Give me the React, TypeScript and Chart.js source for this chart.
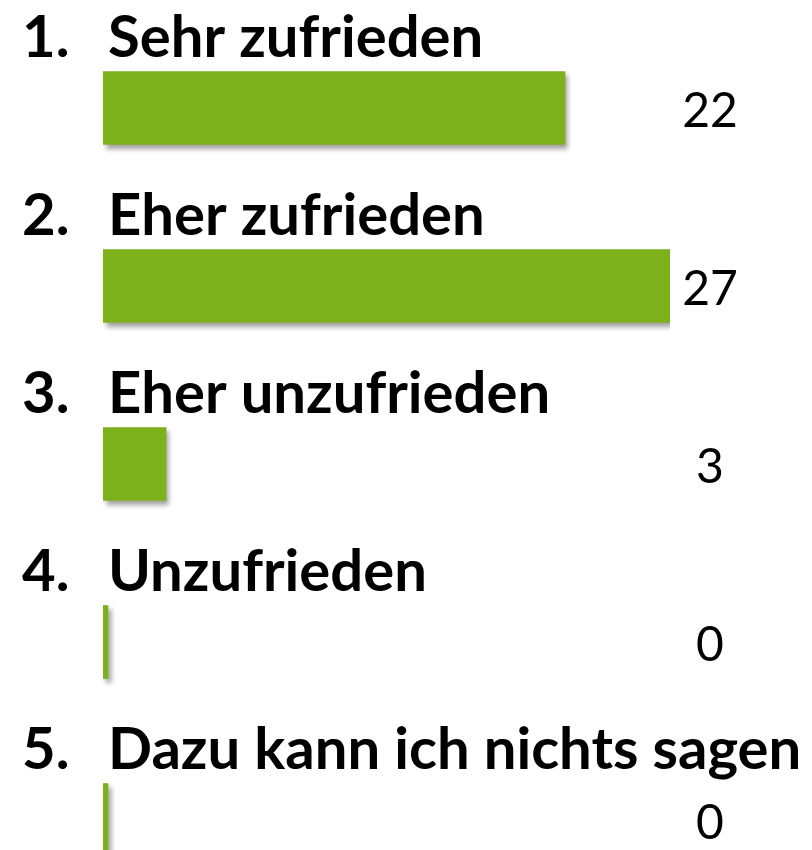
import React, { useEffect, useRef } from "react";
import { Chart, registerables } from "chart.js";

Chart.register(...registerables);

const categories = [
  "Sehr zufrieden",
  "Eher zufrieden",
  "Eher unzufrieden",
  "Unzufrieden",
  "Dazu kann ich nichts sagen",
];
const numbering = ["1.", "2.", "3.", "4.", "5."];
const counts = [22, 27, 3, 0, 0];
const axisMax = 27;

const BAR_COLOR = "#7DB11C";

const shadowPlugin = {
  id: "barShadow",
  beforeDatasetDraw(chart: any) {
    const ctx = chart.ctx;
    ctx.save();
    ctx.shadowColor = "rgba(0,0,0,0.38)";
    ctx.shadowOffsetX = 3;
    ctx.shadowOffsetY = 4;
    ctx.shadowBlur = 5;
  },
  afterDatasetDraw(chart: any) {
    chart.ctx.restore();
  },
};

const rowLabelsPlugin = {
  id: "rowLabels",
  afterDatasetsDraw(chart: any) {
    const ctx = chart.ctx;
    const yScale = chart.scales.y;
    ctx.save();
    ctx.fillStyle = "#000";
    categories.forEach((label, i) => {
      const yc = yScale.getPixelForValue(i);
      ctx.font = "bold 58px Lato";
      ctx.textAlign = "left";
      ctx.textBaseline = "alphabetic";
      ctx.fillText(numbering[i], 22, yc - 51);
      ctx.fillText(label, 108, yc - 51);
      ctx.font = "48px Lato";
      ctx.textAlign = "center";
      ctx.textBaseline = "middle";
      ctx.fillText(String(counts[i]), 710, yc + 4);
    });
    ctx.restore();
  },
};

export default function App() {
  const canvasRef = useRef<HTMLCanvasElement | null>(null);

  useEffect(() => {
    document.body.style.margin = "0";
    document.body.style.overflow = "hidden";
    const canvas = canvasRef.current;
    if (!canvas) return;
    const chart = new Chart(canvas, {
      type: "bar",
      data: {
        labels: categories,
        datasets: [
          {
            data: counts,
            backgroundColor: BAR_COLOR,
            borderWidth: 0,
            barThickness: 73,
            minBarLength: 5,
          },
        ],
      },
      options: {
        indexAxis: "y",
        responsive: false,
        maintainAspectRatio: false,
        animation: false,
        layout: { padding: { left: 103, right: 142, top: 19, bottom: 0 } },
        scales: {
          x: { min: 0, max: axisMax, display: false, grid: { display: false } },
          y: { display: false, offset: true, grid: { display: false } },
        },
        plugins: {
          legend: { display: false },
          tooltip: { enabled: false },
        },
      },
      plugins: [shadowPlugin, rowLabelsPlugin],
    });
    return () => chart.destroy();
  }, []);

  return (
    <div style={{ width: 812, height: 850, overflow: "hidden", background: "#fff" }}>
      <canvas ref={canvasRef} width={812} height={909} style={{ display: "block" }} />
    </div>
  );
}
